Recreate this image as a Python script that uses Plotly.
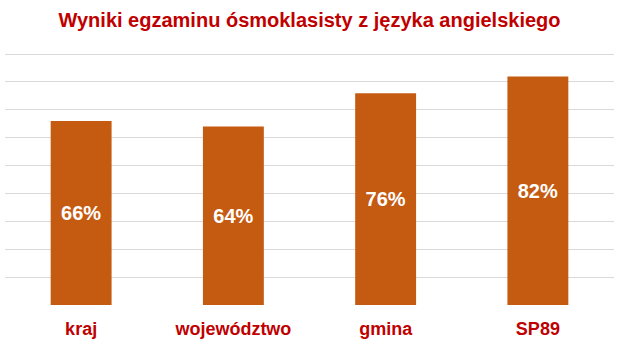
import plotly.graph_objects as go

categories = ["kraj", "województwo", "gmina", "SP89"]
values = [66, 64, 76, 82]
labels = ["66%", "64%", "76%", "82%"]

RED = "#C00000"
BAR = "#C55A11"
FONT = "Liberation Sans"

fig = go.Figure(go.Bar(
    x=categories, y=values, text=labels,
    textposition="inside", insidetextanchor="middle",
    textfont=dict(family=FONT, size=20, color="white", weight="bold"),
    marker=dict(color=BAR, line=dict(width=0)),
    width=0.4, hoverinfo="skip",
))

fig.update_layout(
    width=622, height=342,
    margin=dict(l=5, r=8, t=53, b=37, autoexpand=False),
    paper_bgcolor="white", plot_bgcolor="white",
    showlegend=False,
    uniformtext=dict(mode=False),
    title=dict(
        text="<b>Wyniki egzaminu ósmoklasisty z języka angielskiego</b>",
        font=dict(family=FONT, size=20, color=RED),
        x=0.5, xanchor="center", xref="paper",
        y=1 - 20 / 342, yanchor="middle", yref="container",
    ),
    xaxis=dict(
        range=[-0.5, 3.5], showgrid=False, zeroline=False, showline=False,
        automargin=False,
        ticks="outside", ticklen=7, tickcolor="rgba(0,0,0,0)",
        tickfont=dict(family=FONT, size=18, color=RED, weight="bold"),
    ),
    yaxis=dict(
        range=[0, 90.4], dtick=10, showgrid=True, gridcolor="#D9D9D9", gridwidth=1,
        zeroline=False, showline=False, showticklabels=False, automargin=False,
    ),
)

fig.write_html("out.html")
